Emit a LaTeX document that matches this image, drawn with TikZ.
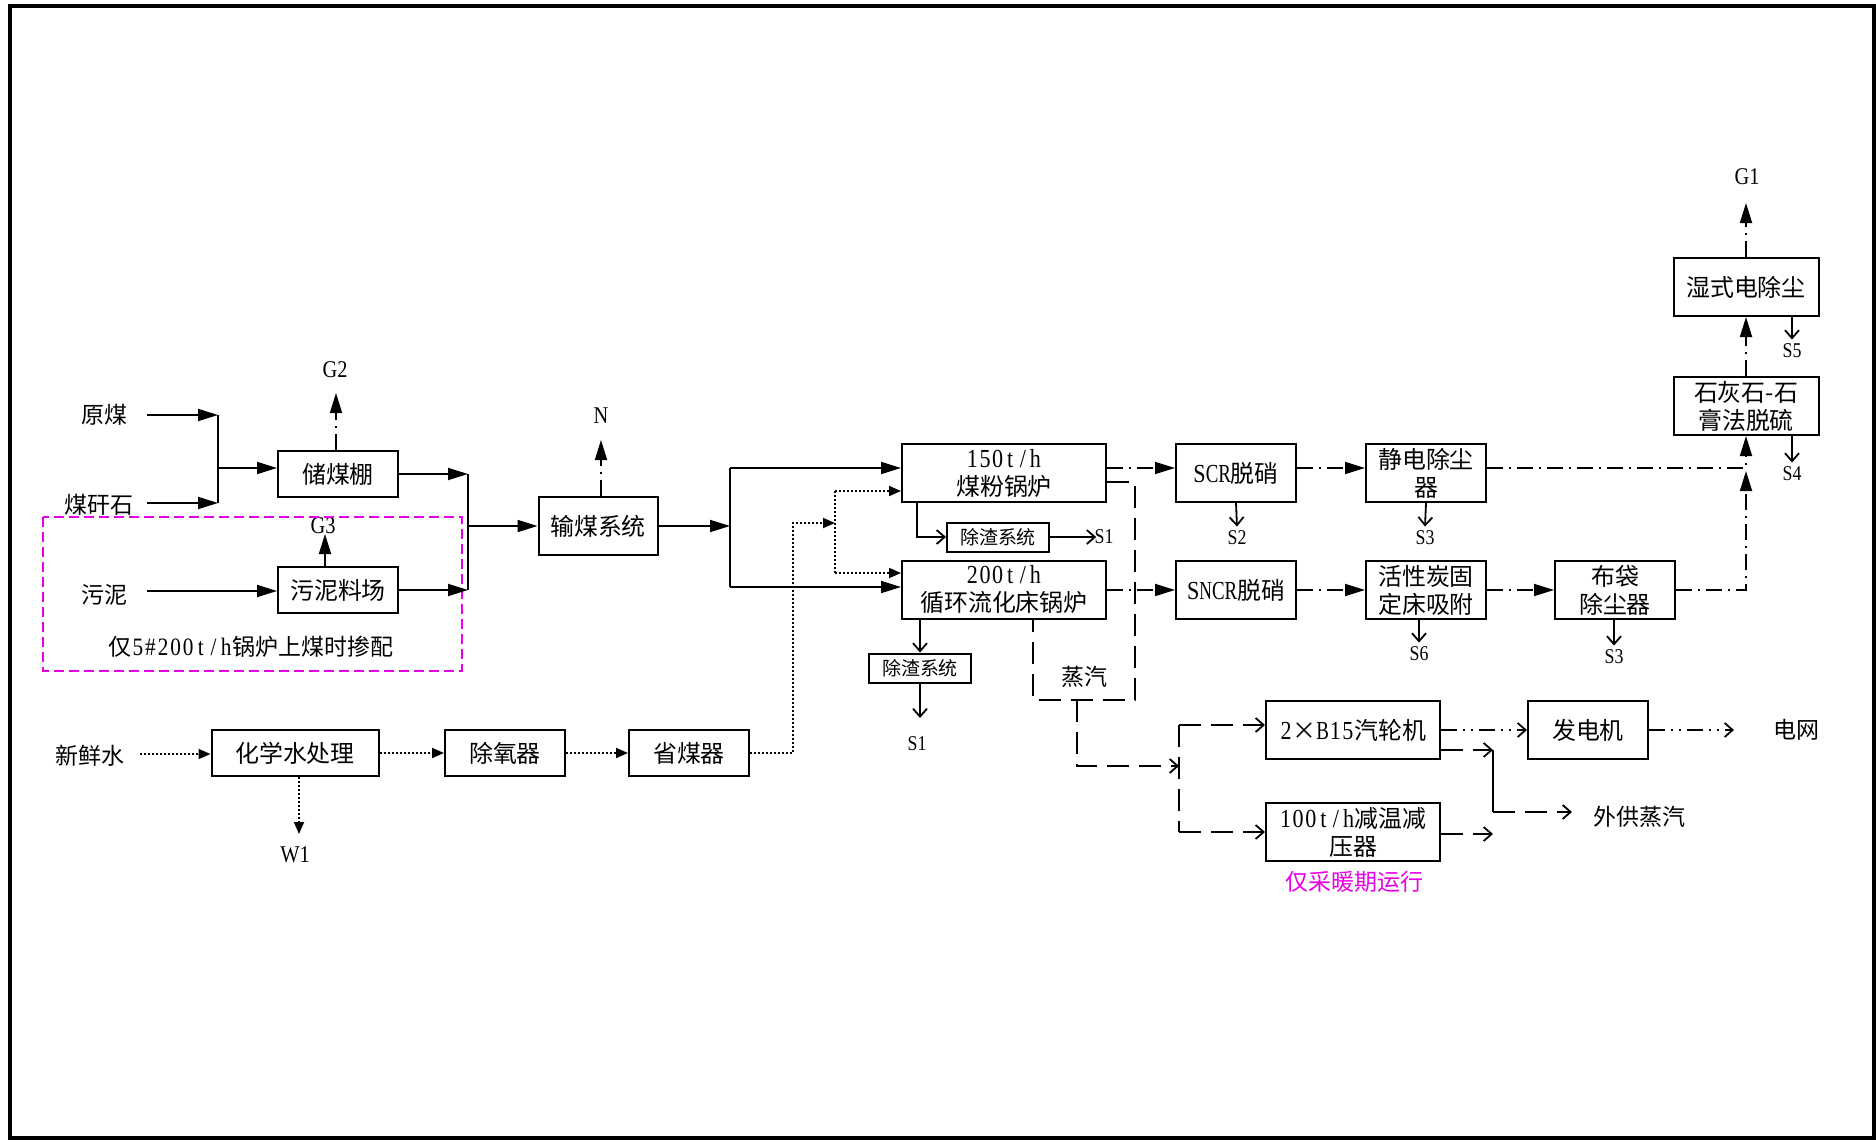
\documentclass[tikz,border=0pt]{standalone}
\usepackage{fontspec}
\usepackage{graphicx}
\setmainfont{Liberation Serif}[FakeStretch=0.85]
\newfontfamily\cjk{Noto Sans CJK SC}[Scale=0.92]
\usetikzlibrary{arrows.meta}
\newcommand\zhs[1]{{\cjk #1}}
\newlength\cellw
\setlength\cellw{6.3pt}
\newsavebox\cellbox
\def\monoloop#1{\ifx#1\relax\else
  \sbox\cellbox{#1}%
  \ifdim\wd\cellbox>\cellw\resizebox{\cellw}{\height}{\usebox\cellbox}\else\makebox[\cellw]{\usebox\cellbox}\fi
  \expandafter\monoloop\fi}
\newcommand\mono[1]{\monoloop#1\relax}
\definecolor{mag}{RGB}{230,0,230}
\begin{document}
\begin{tikzpicture}[x=0.5pt,y=-0.5pt,
 box/.style={draw,line width=1pt,inner sep=0pt,align=center,font=\fontsize{13pt}{14pt}\selectfont},
 sbox/.style={draw,line width=1pt,inner sep=0pt,minimum width=51pt,minimum height=14.5pt,font=\fontsize{10.3pt}{11pt}\selectfont},
 lbl/.style={inner sep=0pt,font=\fontsize{10.5pt}{12pt}\selectfont},
 glbl/.style={inner sep=0pt,font=\fontsize{12pt}{13pt}\selectfont},
 txt/.style={inner sep=0pt,font=\fontsize{12.5pt}{13pt}\selectfont},
 ln/.style={line width=0.9pt},
 sa/.style={ln,-{Triangle[length=10pt,width=6pt]}},
 da/.style={ln,dash pattern=on 8pt off 3pt on 1pt off 3pt,-{Triangle[length=10pt,width=6pt]}},
 wdot/.style={ln,dash pattern=on 1pt off 1pt},
 wa/.style={wdot,-{Triangle[length=6pt,width=5pt]}},
 barb/.style={-{Straight Barb[length=4pt,width=7pt]}},
 ba/.style={ln,barb},
 stm/.style={ln,dash pattern=on 11pt off 5pt},
 ddd/.style={ln,dash pattern=on 8pt off 3pt on 1pt off 3pt on 1pt off 3pt}
]
\useasboundingbox (0,0) rectangle (1876,1140);
\draw[line width=2pt] (10,6) rectangle (1874,1138);

% boxes
\node[box,minimum width=60pt,minimum height=23pt] (cmp) at (338,474) {\zhs{储煤棚}};
\node[box,minimum width=60pt,minimum height=23pt] (wnlc) at (338,590) {\zhs{污泥料场}};
\node[box,minimum width=59.5pt,minimum height=29pt] (smxt) at (598,526) {\zhs{输煤系统}};
\node[box,minimum width=102pt,minimum height=29pt] (b150) at (1004,473) {\mono{150t/h}\\\zhs{煤粉锅炉}};
\node[box,minimum width=102pt,minimum height=29pt] (b200) at (1004,590) {\mono{200t/h}\\\zhs{循环流化床锅炉}};
\node[sbox] (zz1) at (998,537) {\zhs{除渣系统}};
\node[sbox] (zz2) at (920,668) {\zhs{除渣系统}};
\node[box,minimum width=60pt,minimum height=29pt] (scr) at (1236,473) {\mono{SCR}\zhs{脱硝}};
\node[box,minimum width=60pt,minimum height=29pt] (jd) at (1426,473) {\zhs{静电除尘}\\\zhs{器}};
\node[box,minimum width=60pt,minimum height=29pt] (sncr) at (1236,590) {\mono{SNCR}\zhs{脱硝}};
\node[box,minimum width=60pt,minimum height=29pt] (hxt) at (1426,590) {\zhs{活性炭固}\\\zhs{定床吸附}};
\node[box,minimum width=60pt,minimum height=29pt] (bd) at (1615,590) {\zhs{布袋}\\\zhs{除尘器}};
\node[box,minimum width=72.5pt,minimum height=29pt] (tl) at (1746,406) {\zhs{石灰石-石}\\\zhs{膏法脱硫}};
\node[box,minimum width=72.5pt,minimum height=29pt] (sd) at (1746,287) {\zhs{湿式电除尘}};
\node[box,minimum width=83.5pt,minimum height=23pt] (hxs) at (295,753) {\zhs{化学水处理}};
\node[box,minimum width=60pt,minimum height=23pt] (cyq) at (505,753) {\zhs{除氧器}};
\node[box,minimum width=60pt,minimum height=23pt] (smq) at (689,753) {\zhs{省煤器}};
\node[box,minimum width=87pt,minimum height=29pt] (qlj) at (1353,730) {\mono{2}\zhs{×}\mono{B15}\zhs{汽轮机}};
\node[box,minimum width=87pt,minimum height=29pt] (jw) at (1353,832) {\mono{100t/h}\zhs{减温减}\\\zhs{压器}};
\node[box,minimum width=60pt,minimum height=29pt] (fdj) at (1588,730) {\zhs{发电机}};

% labels
\node[txt] (ym) at (105,415) {\zhs{原煤}};
\node[txt] (mgs) at (99,505) {\zhs{煤矸石}};
\node[txt] (wn) at (105,595) {\zhs{污泥}};
\node[glbl] (g2) at (335,370) {G2};
\node[glbl] (g3) at (323,526) {G3};
\node[glbl] (nn) at (601,416) {N};
\node[glbl] (g1) at (1747,177) {G1};
\node[lbl] (s5) at (1792,351) {S5};
\node[lbl] (s4) at (1792,474) {S4};
\node[lbl] (s2) at (1237,538) {S2};
\node[lbl] (s3a) at (1425,538) {S3};
\node[lbl] (s6) at (1419,654) {S6};
\node[lbl] (s3b) at (1614,657) {S3};
\node[lbl] (s1a) at (1104,537) {S1};
\node[lbl] (s1b) at (917,744) {S1};
\node[glbl] (w1) at (295,855) {W1};
\node[txt] (zq) at (1084,677) {\zhs{蒸汽}};
\node[txt] (xxs) at (90,756) {\zhs{新鲜水}};
\node[txt] (dw) at (1796,730) {\zhs{电网}};
\node[txt] (wgzq) at (1639,817) {\zhs{外供蒸汽}};
\node[txt,text=mag] (cnq) at (1354,882) {\zhs{仅采暖期运行}};
\node[txt] (note) at (251,647) {\zhs{仅}\mono{5\#200t/h}\zhs{锅炉上煤时掺配}};

\draw[mag,line width=1pt,dash pattern=on 5pt off 2.5pt] (43,517) rectangle (462,671);

% coal feed
\coordinate (ymS) at (147,415);
\coordinate (jA) at (218,415);
\coordinate (mgS) at (147,503);
\coordinate (jB) at (218,503);
\coordinate (jC) at (218,468);
\draw[sa] (ymS) -- (jA);
\draw[sa] (mgS) -- (jB);
\draw[ln] (jA) -- (jB);
\draw[sa] (jC) -- (jC -| cmp.west);
\coordinate (wnS) at (147,591);
\draw[sa] (wnS) -- (wnS -| wnlc.west);
\coordinate (jD) at (468,474);
\coordinate (jE) at (468,590);
\coordinate (jF) at (468,526);
\draw[sa] (cmp.east) -- (jD);
\draw[sa] (wnlc.east) -- (jE);
\draw[ln] (jD) -- (jE);
\draw[sa] (jF) -- (smxt.west);
\coordinate (jG) at (730,468);
\coordinate (jH) at (730,587);
\coordinate (jI) at (730,526);
\draw[sa] (smxt.east) -- (jI);
\draw[ln] (jG) -- (jH);
\draw[sa] (jG) -- (jG -| b150.west);
\draw[sa] (jH) -- (jH -| b200.west);

% emissions
\coordinate (g2t) at (336,393);
\coordinate (g3t) at (325,534);
\coordinate (nt) at (601,440);
\coordinate (g1t) at (1746,203);
\draw[da] (cmp.north -| g2t) -- (g2t);
\draw[da] (wnlc.north -| g3t) -- (g3t);
\draw[da] (smxt.north -| nt) -- (nt);
\draw[da] (sd.north) -- (g1t);

% flue gas
\draw[da] ([yshift=2.5pt]b150.east) -- ([yshift=2.5pt]scr.west);
\draw[da] (b200.east) -- (sncr.west);
\draw[da] ([yshift=2.5pt]scr.east) -- ([yshift=2.5pt]jd.west);
\draw[da] (sncr.east) -- (hxt.west);
\draw[da] (hxt.east) -- (bd.west);
\draw[da] ([yshift=2.5pt]jd.east) -| (tl.south);
\coordinate (m1) at (1746,471);
\draw[da] (bd.east) -| (m1);
\draw[da] (tl.north) -- (sd.south);

% solid wastes
\coordinate (zzA) at (917,537);
\draw[ba] (b150.south -| zzA) -- (zzA) -- (zz1.west);
\draw[ba] (zz1.east) -- ([xshift=1pt]s1a.west);
\draw[ba] (b200.south -| zz2.north) -- (zz2.north);
\coordinate (s1bt) at (920,718);
\draw[ba] (zz2.south) -- (s1bt);
\draw[ba] (scr.south) -- ([yshift=2pt]s2.north);
\draw[ba] (jd.south) -- ([yshift=2pt]s3a.north);
\draw[ba] (hxt.south -| s6.north) -- ([yshift=2pt]s6.north);
\draw[ba] (bd.south -| s3b.north) -- ([yshift=2pt]s3b.north);
\draw[ba] (sd.south -| s5.north) -- ([yshift=2pt]s5.north);
\draw[ba] (tl.south -| s4.north) -- ([yshift=2pt]s4.north);

% steam
\coordinate (st1) at (1135,482);
\coordinate (st2) at (1135,700);
\coordinate (st3) at (1033,700);
\draw[stm] ([yshift=-4.5pt]b150.east) -- (st1) -- (st2) -- (st3) -- (b200.south -| st3);
\coordinate (tj) at (1077,700);
\coordinate (tk) at (1077,766);
\coordinate (vx) at (1179,766);
\coordinate (va) at (1179,725);
\coordinate (vb) at (1179,832);
\draw[stm,barb] (tj) -- (tk) -- (vx);
\draw[stm] (va) -- (vb);
\draw[stm,barb] (va) -- (va -| qlj.west);
\draw[stm,barb] (vb) -- (vb -| jw.west);
\coordinate (ua) at (1493,750);
\coordinate (ub) at (1493,834);
\coordinate (uc) at (1493,812);
\coordinate (ue) at (1572,812);
\draw[stm,barb] ([yshift=-10pt]qlj.east) -- (ua);
\draw[stm,barb] ([yshift=-1pt]jw.east) -- (ub);
\draw[ln] (ua) -- (uc);
\draw[stm,barb] (uc) -- (ue);

% power
\coordinate (dwt) at (1734,730);
\draw[ddd,barb] (qlj.east) -- (fdj.west);
\draw[ddd,barb] (fdj.east) -- (dwt);

% water
\coordinate (xsS) at (140,754);
\draw[wa] (xsS) -- (xsS -| hxs.west);
\draw[wa] (hxs.east) -- (cyq.west);
\draw[wa] (cyq.east) -- (smq.west);
\coordinate (wa1) at (793,753);
\coordinate (wa2) at (793,523);
\coordinate (wa3) at (835,523);
\draw[wa] (smq.east) -- (wa1) -- (wa2) -- (wa3);
\coordinate (wb1) at (835,491);
\coordinate (wb2) at (835,573);
\draw[wdot] (wb1) -- (wb2);
\draw[wa] (wb1) -- (wb1 -| b150.west);
\draw[wa] (wb2) -- (wb2 -| b200.west);
\coordinate (w1t) at (299,834);
\draw[wa] (hxs.south -| w1t) -- (w1t);
\end{tikzpicture}
\end{document}
